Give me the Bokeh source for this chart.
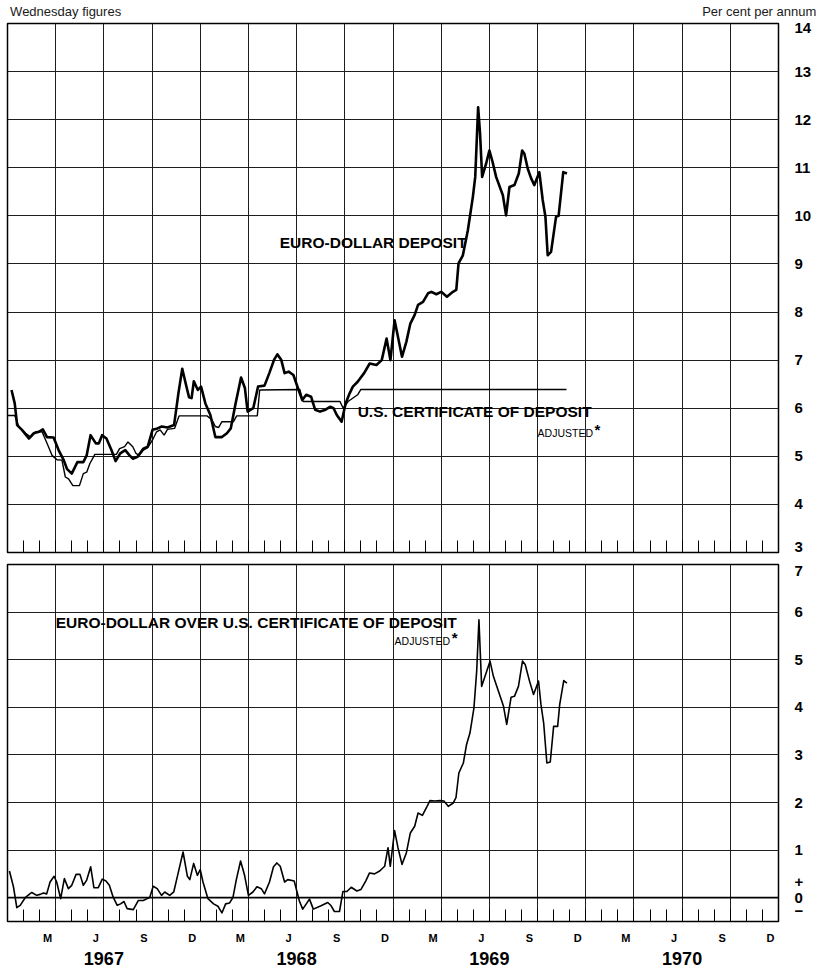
from bokeh.plotting import figure
from bokeh.models import FixedTicker, LinearAxis, Range1d, Span
from bokeh.layouts import column
from bokeh.embed import file_html
from bokeh.resources import INLINE
from bokeh.core.properties import value

FONT = "Liberation Sans"

# x values: months since 1 Jan 1967 (Wednesday observations)
euro_month = [0.25, 0.45, 0.6, 0.9, 1.33, 1.64, 1.95, 2.2, 2.46, 2.87, 3.18, 3.5, 3.7, 4.0, 4.35,
              4.72, 4.93, 5.17, 5.5, 5.69, 5.89, 6.16, 6.47, 6.73, 7.02, 7.33, 7.6, 7.8, 8.1, 8.46,
              8.73, 9.03, 9.34, 9.6, 9.96, 10.37, 10.64, 10.88, 11.09, 11.3, 11.46, 11.6, 11.85,
              12.05, 12.32, 12.63, 12.94, 13.35, 13.66, 13.9, 14.2, 14.54, 14.78, 14.95, 15.3,
              15.6, 16.0, 16.3, 16.6, 16.8, 17.04, 17.25, 17.5, 17.8, 18.1, 18.35, 18.6, 18.9,
              19.15, 19.46, 19.8, 20.08, 20.3, 20.5, 20.8, 21.05, 21.3, 21.5, 21.8, 22.2, 22.55,
              22.97, 23.3, 23.6, 23.84, 24.1, 24.56, 24.83, 25.08, 25.35, 25.56, 25.87, 26.18,
              26.39, 26.7, 27.0, 27.36, 27.73, 27.94, 28.08, 28.35, 28.66, 28.97, 29.12, 29.3,
              29.42, 29.55, 29.8, 30.0, 30.2, 30.42, 30.84, 31.04, 31.25, 31.56, 31.83, 32.04,
              32.18, 32.39, 32.6, 32.8, 33.11, 33.32, 33.49, 33.63, 33.84, 34.15, 34.31, 34.6, 34.83]
euro_rate = [6.38, 6.1, 5.65, 5.55, 5.37, 5.48, 5.51, 5.56, 5.4, 5.39, 5.13, 4.92, 4.74, 4.64, 4.88,
             4.88, 5.02, 5.44, 5.27, 5.27, 5.44, 5.37, 5.13, 4.9, 5.06, 5.13, 5.02, 4.95, 4.99, 5.16,
             5.2, 5.55, 5.58, 5.62, 5.6, 5.65, 6.31, 6.82, 6.52, 6.23, 6.21, 6.56, 6.38,
             6.45, 6.1, 5.86, 5.4, 5.4, 5.48, 5.58, 6.1, 6.64, 6.42, 5.93, 6.0,
             6.45, 6.47, 6.73, 7.01, 7.12, 7.01, 6.73, 6.76, 6.69, 6.4, 6.17, 6.28, 6.24,
             5.97, 5.93, 5.97, 6.03, 6.0, 5.86, 5.72, 6.1, 6.31, 6.45, 6.55, 6.73, 6.93,
             6.9, 7.0, 7.45, 7.0, 7.83, 7.07, 7.38, 7.76, 7.94, 8.15, 8.21, 8.39,
             8.42, 8.37, 8.42, 8.32, 8.42, 8.46, 9.01, 9.18, 9.7, 10.39, 10.81, 12.26,
             11.71, 10.81, 11.09, 11.36, 11.12, 10.81, 10.43, 10.01, 10.6, 10.64, 10.88, 11.36,
             11.29, 10.98, 10.78, 10.64, 10.91, 10.33, 9.98, 9.18, 9.25, 9.98, 10.0, 10.91, 10.88]

cd_month = [0.0, 0.45, 0.7, 1.13, 1.44, 1.75, 2.15, 2.46, 2.77, 3.08, 3.39, 3.6, 3.8, 4.07, 4.48,
            4.72, 4.93, 5.13, 5.44, 6.78, 6.98, 7.29, 7.5, 7.8, 8.0, 8.2, 8.46, 8.73, 9.03, 9.28,
            9.5, 9.75, 9.96, 10.4, 10.68, 12.42, 12.73, 12.94, 13.15, 13.35, 14.07, 14.27, 15.55,
            15.7, 18.2, 18.4, 20.7, 20.9, 21.2, 21.8, 22.0, 34.8]
cd_rate = [5.85, 5.85, 5.62, 5.48, 5.4, 5.51, 5.51, 5.27, 5.02, 4.93, 4.92, 4.57, 4.53, 4.39, 4.39,
           4.64, 4.67, 4.85, 5.04, 5.04, 5.16, 5.2, 5.3, 5.2, 5.06, 5.02, 5.13, 5.18, 5.34, 5.51,
           5.55, 5.44, 5.56, 5.58, 5.84, 5.84, 5.76, 5.62, 5.6, 5.72, 5.72, 5.84, 5.84,
           6.38, 6.39, 6.14, 6.14, 6.0, 6.14, 6.28, 6.39, 6.39]

spread_month = [0.12, 0.37, 0.58, 0.79, 1.1, 1.51, 1.82, 2.03, 2.24, 2.44, 2.65, 2.9, 3.06, 3.31, 3.54,
                3.79, 4.0, 4.27, 4.51, 4.72, 4.93, 5.18, 5.38, 5.65, 5.9, 6.13, 6.34, 6.58, 6.83,
                7.04, 7.25, 7.45, 7.83, 8.14, 8.45, 8.7, 8.86, 9.07, 9.32, 9.59, 9.79, 10.1, 10.35,
                10.62, 10.93, 11.2, 11.35, 11.59, 11.82, 12.0, 12.17, 12.48, 12.83, 13.1, 13.35,
                13.58, 13.83, 14.04, 14.24, 14.51, 14.76, 15.0, 15.28, 15.53, 15.8, 16.0, 16.31,
                16.56, 16.77, 16.98, 17.25, 17.45, 17.85, 18.17, 18.38, 18.8, 19.04, 19.52, 19.94,
                20.15, 20.35, 20.67, 20.88, 21.13, 21.4, 21.75, 22.0, 22.3, 22.54, 22.85, 23.17,
                23.48, 23.69, 23.83, 24.1, 24.31, 24.56, 24.83, 25.08, 25.35, 25.56, 25.83, 26.08,
                26.3, 26.6, 26.92, 27.17, 27.44, 27.75, 27.92, 28.1, 28.38, 28.58, 28.79, 29.04,
                29.21, 29.35, 29.52, 29.73, 30.04, 30.25, 30.56, 30.88, 31.08, 31.35, 31.56, 31.81,
                32.06, 32.23, 32.5, 32.75, 33.06, 33.21, 33.38, 33.58, 33.79, 34.0, 34.25, 34.38,
                34.63, 34.83]
spread_rate = [0.56, 0.23, -0.21, -0.16, 0.0, 0.11, 0.05, 0.07, 0.1, 0.08, 0.33, 0.45, 0.33, -0.02, 0.4,
               0.19, 0.26, 0.49, 0.49, 0.26, 0.37, 0.65, 0.21, 0.21, 0.39, 0.35, 0.26, 0.01, -0.16,
               -0.13, -0.08, -0.23, -0.25, -0.06, -0.06, -0.02, 0.01, 0.24, 0.19, 0.05, 0.12, 0.05, 0.12,
               0.51, 0.96, 0.45, 0.38, 0.72, 0.47, 0.59, 0.33, -0.02, -0.13, -0.18, -0.32,
               -0.13, -0.11, 0.01, 0.37, 0.77, 0.47, 0.05, 0.12, 0.23, 0.19, 0.08, 0.33,
               0.65, 0.73, 0.66, 0.33, 0.38, 0.35, -0.07, -0.24, -0.03, -0.24, -0.17, -0.1,
               -0.17, -0.29, -0.29, 0.13, 0.13, 0.22, 0.14, 0.17, 0.35, 0.52, 0.5, 0.56,
               0.66, 1.05, 0.66, 1.41, 1.05, 0.7, 0.94, 1.36, 1.5, 1.78, 1.73, 1.89,
               2.04, 2.03, 2.04, 2.03, 1.92, 1.99, 2.1, 2.62, 2.83, 3.22, 3.46, 3.99,
               4.76, 5.84, 4.44, 4.65, 4.97, 4.65, 4.34, 4.02, 3.64, 4.21, 4.23, 4.44,
               4.97, 4.9, 4.55, 4.27, 4.55, 4.06, 3.67, 2.83, 2.85, 3.6, 3.6, 4.06,
               4.56, 4.51]

years = ["1967", "1968", "1969", "1970"]
quarter_month_labels = ["M", "J", "S", "D"]
top_tick_labels = [str(v) for v in range(3, 15)]
bottom_tick_labels = [str(v) for v in range(0, 8)]

quarter_bounds = list(range(3, 48, 3))
month_bounds = list(range(1, 48))
label_months = [12 * y + m + 0.5 for y in range(4) for m in (2, 5, 8, 11)]
label_names = quarter_month_labels * 4
year_mid = [12 * y + 6 for y in range(4)]

GRID = "#1e1e1e"


def style_axis_text(ax, size):
    ax.major_label_text_font = FONT
    ax.major_label_text_font_style = "bold"
    ax.major_label_text_font_size = size
    ax.major_label_text_color = "black"


def no_ticks(ax):
    ax.major_tick_in = 0
    ax.major_tick_out = 0
    ax.minor_tick_in = 0
    ax.minor_tick_out = 0
    ax.axis_line_color = None


def style_common(p):
    p.outline_line_color = "black"
    p.outline_line_width = 1.5
    p.background_fill_color = "white"
    p.border_fill_color = "white"
    p.xgrid.ticker = FixedTicker(ticks=quarter_bounds)
    p.xgrid.grid_line_color = GRID
    p.xgrid.grid_line_width = 1
    p.ygrid.grid_line_color = GRID
    p.ygrid.grid_line_width = 1
    ya = p.yaxis[0]
    no_ticks(ya)
    ya.major_label_standoff = 16
    style_axis_text(ya, "15px")
    xa = p.xaxis[0]
    xa.major_tick_in = 0
    xa.major_tick_out = 0
    xa.minor_tick_in = 12
    xa.minor_tick_out = 0
    xa.minor_tick_line_color = "black"
    xa.minor_tick_line_width = 1
    xa.axis_line_color = None


# ---------------- top panel ----------------
p1 = figure(width=823, height=558, x_range=Range1d(0, 48), y_range=Range1d(3, 14),
            output_backend="svg", toolbar_location=None, y_axis_location="right",
            min_border_left=7, min_border_right=45, min_border_top=22, min_border_bottom=6)
style_common(p1)
p1.ygrid.ticker = FixedTicker(ticks=list(range(4, 14)))
# edge labels nudged inward so they stay inside the canvas, as in the original
top_label_pos = [3.12] + list(range(4, 14)) + [13.9]
p1.yaxis[0].ticker = FixedTicker(ticks=top_label_pos)
p1.yaxis[0].major_label_overrides = {pos: lab for pos, lab in zip(top_label_pos, top_tick_labels)}
p1.xaxis[0].ticker = FixedTicker(ticks=[], minor_ticks=month_bounds)
p1.xaxis[0].major_label_text_font_size = "0px"
p1.xaxis[0].major_label_standoff = 0

# header texts as an axis above the frame
head_pos = [3.62, 46.8]
head_text = ["Wednesday figures", "Per cent per annum"]
head = LinearAxis(ticker=FixedTicker(ticks=head_pos),
                  major_label_overrides={pos: t for pos, t in zip(head_pos, head_text)})
no_ticks(head)
head.major_label_standoff = 5
head.major_label_text_font = FONT
head.major_label_text_font_size = "13px"
head.major_label_text_color = "#1a1a1a"
p1.add_layout(head, "above")

p1.line(cd_month, cd_rate, line_color="black", line_width=1.4)
p1.line(euro_month, euro_rate, line_color="black", line_width=2.6, line_join="round")

p1.text(x=[16.95], y=[9.44], text=["EURO-DOLLAR DEPOSIT"], text_font=value(FONT),
        text_font_style="bold", text_font_size="15.5px", text_baseline="middle", text_color="black")
p1.text(x=[21.8], y=[5.93], text=["U.S. CERTIFICATE OF DEPOSIT"], text_font=value(FONT),
        text_font_style="bold", text_font_size="15.5px", text_baseline="middle", text_color="black")
p1.text(x=[33.0], y=[5.49], text=["ADJUSTED"], text_font=value(FONT),
        text_font_size="10.5px", text_baseline="middle", text_color="black")
p1.text(x=[36.55], y=[5.55], text=["*"], text_font=value(FONT), text_font_style="bold",
        text_font_size="15px", text_baseline="middle", text_color="black")

# ---------------- bottom panel ----------------
p2 = figure(width=823, height=411, x_range=Range1d(0, 48), y_range=Range1d(-0.5, 7),
            output_backend="svg", toolbar_location=None, y_axis_location="right",
            min_border_left=7, min_border_right=45, min_border_top=6, min_border_bottom=48)
style_common(p2)
p2.ygrid.ticker = FixedTicker(ticks=list(range(1, 7)))
bot_label_pos = [-0.27, 0, 0.32] + list(range(1, 7)) + [6.87]
bot_label_txt = ["\u2212", "0", "+"] + bottom_tick_labels[1:]
p2.yaxis[0].ticker = FixedTicker(ticks=bot_label_pos)
p2.yaxis[0].major_label_overrides = {pos: lab for pos, lab in zip(bot_label_pos, bot_label_txt)}
p2.add_layout(Span(location=0, dimension="width", line_color="black", line_width=1.8))

xa = p2.xaxis[0]
xa.ticker = FixedTicker(ticks=label_months, minor_ticks=month_bounds)
xa.major_label_overrides = {m: n for m, n in zip(label_months, label_names)}
style_axis_text(xa, "11px")
xa.major_label_standoff = 10

yr = LinearAxis(ticker=FixedTicker(ticks=year_mid),
                major_label_overrides={m: y for m, y in zip(year_mid, years)})
no_ticks(yr)
yr.major_label_standoff = 5
style_axis_text(yr, "18px")
p2.add_layout(yr, "below")

p2.line(spread_month, spread_rate, line_color="black", line_width=1.6, line_join="round")

p2.text(x=[3.0], y=[5.78], text=["EURO-DOLLAR OVER U.S. CERTIFICATE OF DEPOSIT"], text_font=value(FONT),
        text_font_style="bold", text_font_size="15.5px", text_baseline="middle", text_color="black")
p2.text(x=[24.1], y=[5.4], text=["ADJUSTED"], text_font=value(FONT),
        text_font_size="10.5px", text_baseline="middle", text_color="black")
p2.text(x=[27.65], y=[5.46], text=["*"], text_font=value(FONT), text_font_style="bold",
        text_font_size="15px", text_baseline="middle", text_color="black")

layout = column(p1, p2, spacing=0)
open("out.html", "w").write(file_html(layout, INLINE))
